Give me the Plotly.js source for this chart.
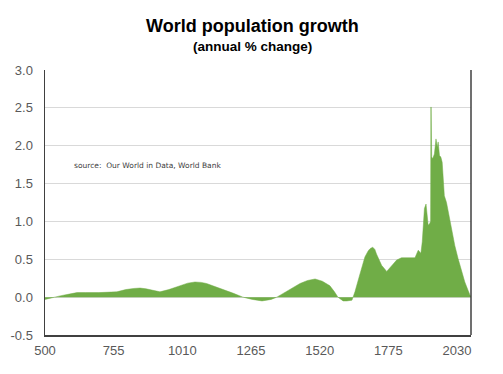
<!DOCTYPE html>
<html>
<head>
<meta charset="utf-8">
<script src="https://cdn.plot.ly/plotly-3.0.1.min.js"></script>
<style>
html,body{margin:0;padding:0;background:#fff;}
#chart{width:503px;height:374px;}
</style>
</head>
<body>
<div id="chart"></div>
<script>
// Year of observation
const years = [500, 530, 560, 590, 619, 650, 700, 767, 800, 830, 853, 875, 900, 927, 960, 1000, 1030, 1057, 1080, 1100, 1150, 1200, 1235, 1270, 1306, 1340, 1361, 1400, 1425, 1447, 1475, 1503, 1530, 1558, 1575, 1588, 1607, 1621, 1640, 1651, 1670, 1688, 1700, 1707, 1717, 1725, 1731, 1750, 1769, 1787, 1806, 1824, 1855, 1874, 1886, 1896, 1901, 1909, 1915, 1919, 1923, 1928, 1932, 1933, 1934, 1936, 1940, 1946, 1952, 1957, 1960, 1965, 1970, 1975, 1983, 1991, 2000, 2010, 2022, 2034, 2047, 2059, 2071, 2079, 2082];
// Annual % change in world population
const growth = [-0.03, -0.01, 0.02, 0.04, 0.06, 0.06, 0.06, 0.07, 0.10, 0.115, 0.12, 0.11, 0.09, 0.07, 0.10, 0.15, 0.185, 0.20, 0.195, 0.18, 0.12, 0.05, 0.00, -0.03, -0.05, -0.03, 0.00, 0.08, 0.14, 0.18, 0.22, 0.24, 0.21, 0.15, 0.07, 0.00, -0.05, -0.05, -0.04, 0.07, 0.31, 0.53, 0.61, 0.64, 0.66, 0.63, 0.57, 0.42, 0.34, 0.42, 0.49, 0.52, 0.52, 0.52, 0.62, 0.58, 0.73, 1.17, 1.23, 1.08, 0.95, 0.97, 1.00, 2.51, 2.51, 1.85, 1.83, 1.89, 2.09, 1.98, 2.05, 1.87, 1.85, 1.78, 1.34, 1.25, 1.08, 0.86, 0.68, 0.51, 0.33, 0.20, 0.09, 0.02, 0.02];
const xTicks = [500, 755, 1010, 1265, 1520, 1775, 2030];
const yTicks = [-0.5, 0.0, 0.5, 1.0, 1.5, 2.0, 2.5, 3.0];

const sans = '"Liberation Sans", Arial, sans-serif';

const trace = {
  x: years, y: growth, type: 'scatter', mode: 'lines',
  fill: 'tozeroy', fillcolor: '#70ad47',
  line: {color: '#70ad47', width: 0.5, shape: 'linear'},
  hoverinfo: 'x+y'
};

const layout = {
  width: 503, height: 374,
  margin: {l: 45, r: 32, t: 70, b: 39},
  paper_bgcolor: '#ffffff', plot_bgcolor: '#ffffff',
  showlegend: false,
  xaxis: {
    range: [500, 2082], tickvals: xTicks, ticktext: xTicks.map(String),
    showgrid: false, zeroline: false, showline: true, linecolor: '#404040', linewidth: 1.5,
    ticks: '', tickfont: {family: sans, size: 13, color: '#595959'}, ticklabelstandoff: 3
  },
  yaxis: {
    range: [-0.5, 3.0], tickvals: yTicks, ticktext: yTicks.map(v => v.toFixed(1)),
    showgrid: true, gridcolor: '#d9d9d9', gridwidth: 1,
    zeroline: false, showline: true, linecolor: '#404040', linewidth: 1.5,
    ticks: '', tickfont: {family: sans, size: 13, color: '#595959'}, ticklabelstandoff: 8
  },
  shapes: [
    {type: 'line', xref: 'paper', yref: 'paper', x0: 1, x1: 1, y0: 0, y1: 1,
     line: {color: '#404040', width: 1.5}}
  ],
  annotations: [
    {text: '<b>World population growth</b>', xref: 'paper', yref: 'paper', x: 0.486, y: 1.165,
     xanchor: 'center', yanchor: 'middle', showarrow: false,
     font: {family: sans, size: 18, color: '#000000'}},
    {text: '<b>(annual % change)</b>', xref: 'paper', yref: 'paper', x: 0.486, y: 1.087,
     xanchor: 'center', yanchor: 'middle', showarrow: false,
     font: {family: sans, size: 13.5, color: '#000000'}},
    {text: 'source:  Our World in Data, World Bank', xref: 'paper', yref: 'paper', x: 0.063, y: 0.638,
     xanchor: 'left', yanchor: 'middle', showarrow: false,
     font: {family: '"DejaVu Sans", sans-serif', size: 7.5, color: '#404040'}}
  ]
};

Plotly.newPlot('chart', [trace], layout, {displayModeBar: false, staticPlot: true});
</script>
</body>
</html>
